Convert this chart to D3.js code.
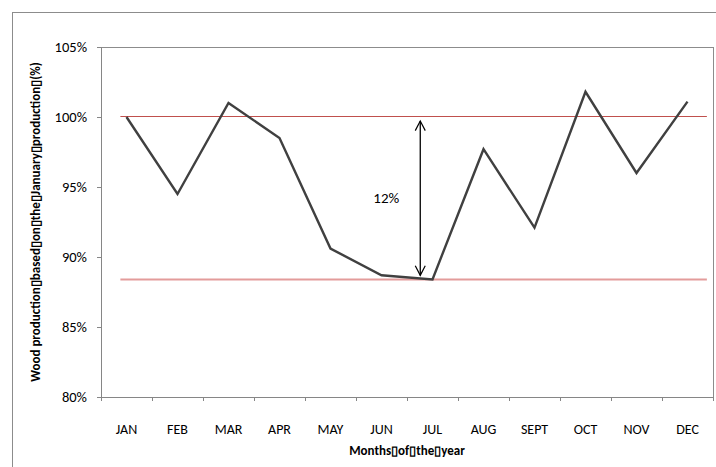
<!DOCTYPE html>
<html><head><meta charset="utf-8">
<script src="https://cdn.jsdelivr.net/npm/d3@7"></script>
<style>
html,body{margin:0;padding:0;background:#fff;}
svg{display:block;}
text{font-family:Calibri, Carlito, Lato, "Open Sans", sans-serif;fill:#000;}
</style></head>
<body>
<script>
const months = ["JAN","FEB","MAR","APR","MAY","JUN","JUL","AUG","SEPT","OCT","NOV","DEC"];
const production = [100.0, 94.5, 101.0, 98.5, 90.6, 88.7, 88.4, 97.7, 92.1, 101.8, 96.0, 101.1];
const yTicks = [80, 85, 90, 95, 100, 105];
const refTop = 100.0;
const refLow = 88.4;
const gapLabel = "12%";
const yTitle = "Wood production\u25AFbased\u25AFon\u25AFthe\u25AFJanuary\u25AFproduction\u25AF(%)";
const xTitle = "Months\u25AFof\u25AFthe\u25AFyear";

const W = 716, H = 467;
const m = {left:101, top:47, right:3, bottom:70};
const pw = W - m.left - m.right, ph = H - m.top - m.bottom;

const svg = d3.select("body").append("svg").attr("width", W).attr("height", H);

// outer chart border (extends past the window on right/bottom)
svg.append("rect").attr("x",12.5).attr("y",12.5).attr("width",W+20).attr("height",H+20)
  .attr("fill","none").attr("stroke","#8c8c8c").attr("stroke-width",1);

const g = svg.append("g").attr("transform",`translate(${m.left},${m.top})`);

const x = d3.scaleBand().domain(months).range([0,pw]).padding(0);
const y = d3.scaleLinear().domain([80,105]).range([ph,0]);

// plot area border
g.append("rect").attr("x",0.5).attr("y",0.5).attr("width",pw).attr("height",ph)
  .attr("fill","none").attr("stroke","#8c8c8c");

// y axis
const ya = g.append("g").call(d3.axisLeft(y).tickValues(yTicks).tickFormat(d=>d+"%").tickSize(4).tickPadding(10));
ya.select(".domain").attr("stroke","#868686");
ya.selectAll(".tick line").attr("stroke","#868686");
ya.selectAll(".tick text").attr("font-size","14.5px").attr("fill","#000");

// x axis with ticks at band boundaries
const xa = g.append("g").attr("transform",`translate(0,${ph})`)
  .call(d3.axisBottom(x).tickSize(0).tickPadding(27));
xa.select(".domain").attr("stroke","#868686");
xa.selectAll(".tick text").attr("font-size","14px").attr("fill","#000");
const bounds = months.map(d=>x(d)).concat([x(months[months.length-1])+x.bandwidth()]);
g.append("g").selectAll("line").data(bounds).join("line")
  .attr("x1",d=>d+0.5).attr("x2",d=>d+0.5).attr("y1",ph).attr("y2",ph+4)
  .attr("stroke","#868686");

const cx = d => x(d) + x.bandwidth()/2;

// reference lines
const refX1 = cx(months[0]) - x.bandwidth()*0.12;
const refX2 = cx(months[months.length-1]) + x.bandwidth()*0.38;
g.append("line").attr("x1",refX1).attr("x2",refX2).attr("y1",y(refTop)-0.5).attr("y2",y(refTop)-0.5)
  .attr("stroke","#c0504d").attr("stroke-width",1);
g.append("line").attr("x1",refX1).attr("x2",refX2).attr("y1",y(refLow)).attr("y2",y(refLow))
  .attr("stroke","#e39c9b").attr("stroke-width",2);

// series line
const line = d3.line().x((d,i)=>cx(months[i])).y(d=>y(d));
g.append("path").datum(production).attr("d",line)
  .attr("fill","none").attr("stroke","#404040").attr("stroke-width",2.4).attr("stroke-linejoin","miter");

// double arrow
const ax = cx("JUL") - x.bandwidth()*0.24;
const ay1 = y(refTop) + 4, ay2 = y(refLow) - 4;
g.append("line").attr("x1",ax).attr("x2",ax).attr("y1",ay1).attr("y2",ay2)
  .attr("stroke","#000").attr("stroke-width",1.3);
const ah = 6, aw = 5;
g.append("path").attr("d",`M${ax-aw},${ay1+ah*1.6}L${ax},${ay1}L${ax+aw},${ay1+ah*1.6}`)
  .attr("fill","none").attr("stroke","#000").attr("stroke-width",1.2);
g.append("path").attr("d",`M${ax-aw},${ay2-ah*1.6}L${ax},${ay2}L${ax+aw},${ay2-ah*1.6}`)
  .attr("fill","none").attr("stroke","#000").attr("stroke-width",1.2);
g.append("text").attr("x",ax-34).attr("y",y((refTop+refLow)/2)+1)
  .attr("text-anchor","middle").attr("dominant-baseline","middle")
  .attr("font-size","15px").text(gapLabel);

// axis titles
svg.append("text").attr("x",m.left+pw/2).attr("y",455)
  .attr("text-anchor","middle").attr("font-size","13px").attr("font-weight","bold").text(xTitle);
svg.append("text").attr("transform",`translate(40,${m.top+ph/2}) rotate(-90)`)
  .attr("text-anchor","middle").attr("font-size","13px").attr("font-weight","bold").text(yTitle);
</script>
</body></html>
